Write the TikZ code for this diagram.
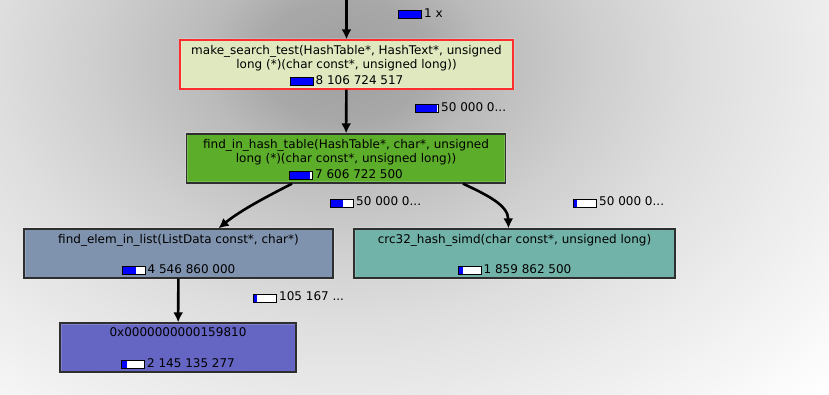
\documentclass[tikz,border=0pt]{standalone}
\usepackage{fontspec}
\setmainfont{DejaVu Sans}
\usetikzlibrary{positioning,arrows.meta}

% fill colours of the cost classes
\definecolor{searchfill}{HTML}{DFE8BE}
\definecolor{hashfill}{HTML}{5CAD2A}
\definecolor{listfill}{HTML}{7F93AE}
\definecolor{crcfill}{HTML}{72B3A9}
\definecolor{addrfill}{HTML}{6565C3}

% soft shadow behind the call tree (25bp = edge of the shaded path)
\pgfdeclareradialshading{treeshadow}{\pgfpoint{0bp}{0bp}}{%
  color(0bp)=(black!38); color(3bp)=(black!34); color(5bp)=(black!27);
  color(9bp)=(black!19); color(12.5bp)=(black!13); color(16.5bp)=(black!8);
  color(20bp)=(black!4); color(23.5bp)=(white); color(50bp)=(white)}

\newcommand{\graphfont}{\fontsize{12}{14}\selectfont}
% cost bar: #1 = filled part (of 22)
\newcommand{\costbar}[1]{\raisebox{-1pt}{\fboxsep=0pt\fboxrule=1pt%
  \fcolorbox{black}{white}{\color{blue}\rule{#1pt}{7pt}\hspace{\dimexpr22pt-#1pt\relax}}}\hspace{2pt}}

\tikzstyle{func}=[rectangle,draw=black,line width=1.3pt,inner sep=0pt,minimum height=49pt,
  postaction={draw=white,draw opacity=0.18,line width=3pt}]
\tikzstyle{fname}=[inner sep=0pt,align=center,font=\graphfont]
\tikzstyle{fcost}=[inner sep=0pt,font=\graphfont,text height=8.5pt,text depth=2pt]
\tikzstyle{clabel}=[anchor=west,inner sep=0pt,font=\graphfont]
\tikzstyle{call}=[line width=2.6pt]

\begin{document}
\begin{tikzpicture}[>={Latex[length=10pt,width=10pt]},x=1pt,y=-1pt]
  \useasboundingbox (0,0) rectangle (829,395);
  \fill[white] (0,0) rectangle (829,395);
  \begin{scope}
    \clip (0,0) rectangle (829,395);
    \shade[shading=treeshadow] (345,60) ellipse [x radius=700, y radius=520];
  \end{scope}

  % functions
  \node (mst) [func,draw=red,fill=searchfill,minimum width=333pt] at (346.5,64.5) {};
  \node (fiht) [func,fill=hashfill,minimum width=319pt] at (346,158.5) {};
  \node (feil) [func,fill=listfill,minimum width=309pt] at (178.5,253.5) {};
  \node (crc) [func,fill=crcfill,minimum width=321pt] at (514.5,253.5) {};
  \node (addr) [func,fill=addrfill,minimum width=236pt] at (178,347.5) {};

  \node (mst-name) [fname,below=5.5pt of mst.north]
    {make\_search\_test(HashTable*, HashText*, unsigned\\long (*)(char const*, unsigned long))};
  \node (mst-cost) [fcost,above=3pt of mst.south] {\costbar{22}8 106 724 517};
  \node (fiht-name) [fname,below=5.5pt of fiht.north]
    {find\_in\_hash\_table(HashTable*, char*, unsigned\\long (*)(char const*, unsigned long))};
  \node (fiht-cost) [fcost,above=3pt of fiht.south] {\costbar{20}7 606 722 500};
  \node (feil-name) [fname,below=5.5pt of feil.north] {find\_elem\_in\_list(ListData const*, char*)};
  \node (feil-cost) [fcost,above=3pt of feil.south] {\costbar{13}4 546 860 000};
  \node (crc-name) [fname,below=5.5pt of crc.north] {crc32\_hash\_simd(char const*, unsigned long)};
  \node (crc-cost) [fcost,above=3pt of crc.south] {\costbar{4}1 859 862 500};
  \node (addr-name) [fname,below=5.5pt of addr.north] {0x0000000000159810};
  \node (addr-cost) [fcost,above=3pt of addr.south] {\costbar{5}2 145 135 277};

  % call counts
  \node (lbl-caller) [clabel] at (398,14) {\costbar{22}1 x};
  \node (lbl-search) [clabel] at (415,108) {\costbar{21}50 000 0...};
  \node (lbl-list) [clabel] at (330,202.5) {\costbar{12}50 000 0...};
  \node (lbl-crc) [clabel] at (573,202.5) {\costbar{3}50 000 0...};
  \node (lbl-addr) [clabel] at (253,297.5) {\costbar{3}105 167 ...};

  % calls
  \coordinate (caller) at (346.5,-2);
  \path[->]
  (caller) edge[call] (mst)
  (mst) edge[call] (fiht)
  (feil) edge[call] (addr);
  \draw[call,->] ([xshift=-54pt]fiht.south) .. controls (268,196) and (241,210) .. ([xshift=40pt]feil.north);
  \draw[call,->] ([xshift=117pt]fiht.south) .. controls (487,195) and (508,205) .. ([xshift=-6pt]crc.north);
\end{tikzpicture}
\end{document}
